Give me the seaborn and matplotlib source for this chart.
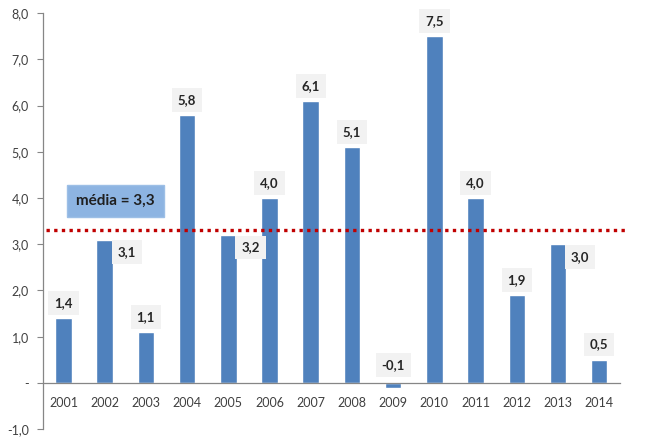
import matplotlib
matplotlib.use("Agg")
import matplotlib.pyplot as plt
import seaborn as sns
import pandas as pd

years = [str(y) for y in range(2001, 2015)]
values = [1.4, 3.1, 1.1, 5.8, 3.2, 4.0, 6.1, 5.1, -0.1, 7.5, 4.0, 1.9, 3.0, 0.5]
# labels placed to the right of the bar instead of above it
side_labels = ["2002", "2005", "2013"]
mean_value = 3.3
y_ticks = [-1, 0, 1, 2, 3, 4, 5, 6, 7, 8]


def fmt(v):
    return f"{v:.1f}".replace(".", ",")


def main():
    sns.set_style("white")
    plt.rcParams["font.family"] = ["Lato", "DejaVu Sans"]

    df = pd.DataFrame({"ano": years, "valor": values})

    fig = plt.figure(figsize=(6.49, 4.41), dpi=100)
    ax = fig.add_axes([0.066, 0.027, 0.889, 0.943])

    sns.barplot(data=df, x="ano", y="valor", color="#4F81BD",
                saturation=1, width=0.4, ax=ax)

    ax.set_ylim(-1, 8)
    ax.set_xlim(-0.5, len(years) - 0.5)
    ax.set_yticks(y_ticks)
    ax.set_yticklabels(["-" if t == 0 else fmt(t) for t in y_ticks],
                       fontsize=9, color="#404040")

    # x axis sits on zero, tick marks between the categories
    ax.spines["bottom"].set_position(("data", 0))
    ax.spines["top"].set_visible(False)
    ax.spines["right"].set_visible(False)
    for s in ("left", "bottom"):
        ax.spines[s].set_color("#868686")
        ax.spines[s].set_linewidth(0.9)
    ax.tick_params(axis="x", which="major", length=0, pad=10,
                   labelsize=9, labelcolor="#404040")
    ax.set_xticks([i + 0.5 for i in range(len(years))], minor=True)
    ax.tick_params(axis="x", which="minor", length=4, color="#868686",
                   direction="out")
    ax.tick_params(axis="y", length=4, color="#868686", direction="out",
                   left=True, pad=6)
    ax.set_xlabel("")
    ax.set_ylabel("")

    box = dict(boxstyle="square,pad=0.45", fc="#F2F2F2", ec="none")
    for i, (yr, v) in enumerate(zip(years, values)):
        if yr in side_labels:
            ax.annotate(fmt(v), (i, v), xytext=(16, -9),
                        textcoords="offset points", ha="center", va="center",
                        fontsize=9.5, fontweight="bold", color="#262626",
                        bbox=box)
        else:
            top = max(v, 0)
            ax.annotate(fmt(v), (i, top), xytext=(0, 11 if v >= 0 else 13),
                        textcoords="offset points", ha="center", va="center",
                        fontsize=9.5, fontweight="bold", color="#262626",
                        bbox=box)

    ax.axhline(mean_value, xmin=0.005, xmax=1.01, color="#C00000",
               linestyle=(0, (1, 1.3)), linewidth=2.4, clip_on=False)
    ax.text(1.27, 3.93, "média = " + fmt(mean_value), ha="center",
            va="center", fontsize=11, fontweight="bold", color="#1F1F1F",
            bbox=dict(boxstyle="square,pad=0.6", fc="#8DB4E2",
                      ec="#9DBFE6", lw=1))

    fig.savefig("out.png", dpi=100)


if __name__ == "__main__":
    main()
